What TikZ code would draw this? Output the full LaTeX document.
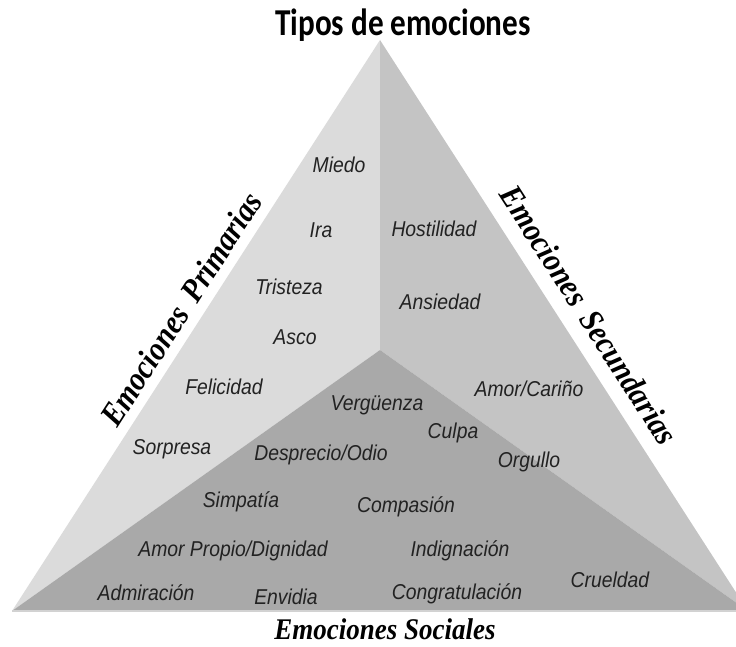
\documentclass[tikz,border=0pt]{standalone}
\usepackage{fontspec}
\newfontfamily\emofont[FakeStretch=0.9]{Liberation Sans}
\newfontfamily\groupfont[FakeStretch=0.9]{Liberation Serif}
\newfontfamily\titlefont[FakeStretch=0.82]{Carlito}
\usetikzlibrary{positioning}

\definecolor{faceprim}{HTML}{DBDBDB}
\definecolor{facesec}{HTML}{C4C4C4}
\definecolor{facesoc}{HTML}{A9A9A9}
\definecolor{baseedge}{HTML}{D2D2D2}
\definecolor{emotext}{HTML}{222222}

\begin{document}
\begin{tikzpicture}[
    x=1pt, y=-1pt,
    emo/.style={
        text=emotext,
        font=\emofont\itshape\fontsize{21.5}{23}\selectfont,
        inner sep=1pt
    },
    group/.style={
        font=\groupfont\bfseries\itshape\fontsize{33}{35}\selectfont,
        fill=white,
        inner sep=1pt
    },
    heading/.style={
        font=\titlefont\bfseries\fontsize{38}{40}\selectfont,
        inner sep=0pt
    }
]
\useasboundingbox (0,0) rectangle (736,647);
\clip (0,0) rectangle (736,647);

\coordinate (apex) at (380,40);
\coordinate (lefttip) at (12,611);
\coordinate (righttip) at (748,611);
\coordinate (mid) at (380,350);

% the three faces
\fill[faceprim] (apex) -- (mid) -- (lefttip) -- cycle;
\fill[facesec] (apex) -- (righttip) -- (mid) -- cycle;
\fill[facesoc] (mid) -- (righttip) -- (lefttip) -- cycle;
\draw[baseedge, line width=1.5pt] (lefttip) -- (righttip);

\node[heading, anchor=base] (title) at (403,36) {Tipos de emociones};

\node[group, rotate=57.3] (primarias) at (181,309) {Emociones\, Primarias};
\node[group, rotate=-57.2] (secundarias) at (589,315) {Emociones\, Secundarias};
\node[group, fill=none, font=\groupfont\bfseries\itshape\fontsize{30}{32}\selectfont, anchor=base]
    (sociales) at (385,639) {Emociones Sociales};

% primarias
\node[emo] (miedo) at (339,165) {Miedo};
\node[emo] (ira) at (321,230) {Ira};
\node[emo] (tristeza) at (289,287) {Tristeza};
\node[emo] (asco) at (295,337) {Asco};
\node[emo] (felicidad) at (224,387) {Felicidad};
\node[emo] (sorpresa) at (172,449) {Sorpresa};

% secundarias
\node[emo] (hostilidad) at (434,229) {Hostilidad};
\node[emo] (ansiedad) at (440,302) {Ansiedad};
\node[emo] (carino) at (529,389) {Amor/Cariño};

% sociales
\node[emo] (verguenza) at (377,405) {Vergüenza};
\node[emo] (culpa) at (453,433) {Culpa};
\node[emo] (desprecio) at (321,455) {Desprecio/Odio};
\node[emo] (orgullo) at (529,462) {Orgullo};
\node[emo] (simpatia) at (241,502) {Simpatía};
\node[emo] (compasion) at (406,507) {Compasión};
\node[emo] (dignidad) at (233,551) {Amor Propio/Dignidad};
\node[emo] (indignacion) at (460,551) {Indignación};
\node[emo] (admiracion) at (146,593) {Admiración};
\node[emo] (envidia) at (286,597) {Envidia};
\node[emo] (congratulacion) at (457,594) {Congratulación};
\node[emo] (crueldad) at (610,580) {Crueldad};

\end{tikzpicture}
\end{document}
